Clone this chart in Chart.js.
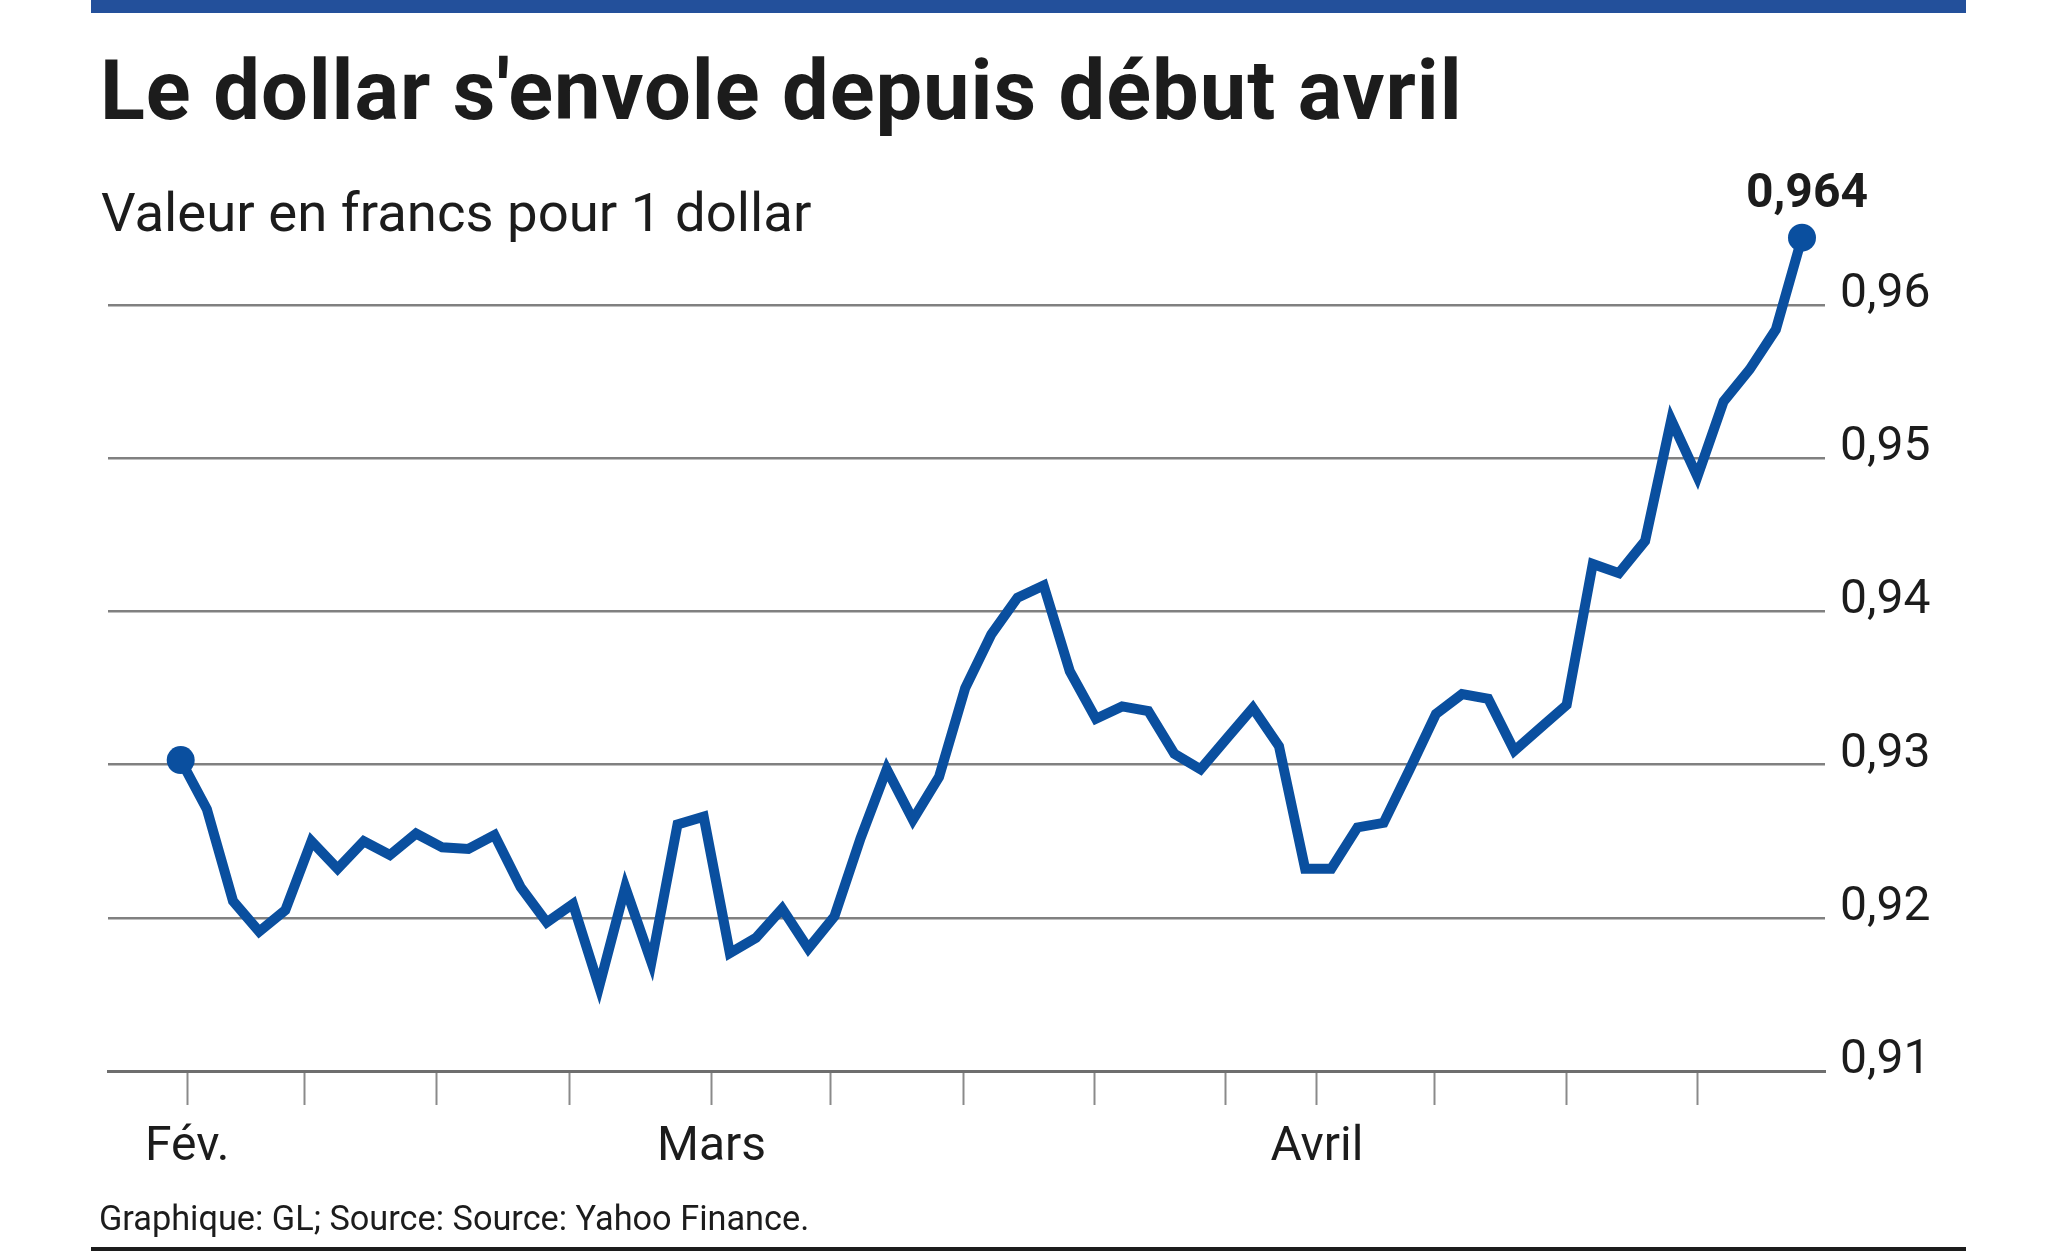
<!DOCTYPE html>
<html>
<head>
<meta charset="utf-8">
<script src="https://cdn.jsdelivr.net/npm/chart.js@4"></script>
<style>
  body { margin: 0; background: #fff; }
  #page { position: relative; width: 2048px; height: 1251px; overflow: hidden; font-family: Roboto, sans-serif; color: #1c1c1c; }
  .txt { position: absolute; line-height: 1; white-space: nowrap; }
  #topbar { position: absolute; left: 91px; top: 0; width: 1875px; height: 13px; background: #23509b; }
  #bottomrule { position: absolute; left: 91px; top: 1247px; width: 1875px; height: 4px; background: #1c1c1c; }
  #title { left: 100px; top: 49px; font-size: 83px; font-weight: 700; letter-spacing: 0.95px; }
  #subtitle { left: 101px; top: 185px; font-size: 54.5px; font-weight: 400; }
  #footer { left: 99px; top: 1201px; font-size: 34.3px; }
  canvas { position: absolute; left: 0; top: 0; }
</style>
</head>
<body>
<div id="page">
  <div id="topbar"></div>
  <div id="title" class="txt">Le dollar s'envole depuis début avril</div>
  <div id="subtitle" class="txt">Valeur en francs pour 1 dollar</div>
  <canvas id="chart" width="2048" height="1251"></canvas>
  <div id="footer" class="txt">Graphique: GL; Source: Source: Yahoo Finance.</div>
  <div id="bottomrule"></div>
</div>
<script>
// USD/CHF, one value per trading day from Feb. 1
const values = [
  0.9303, 0.9271, 0.9211, 0.9191, 0.9205, 0.9250, 0.9232, 0.9250, 0.9241, 0.9255,
  0.9246, 0.9245, 0.9254, 0.9220, 0.9197, 0.9209, 0.9155, 0.9220, 0.9171, 0.9261,
  0.9266, 0.9177, 0.9187, 0.9206, 0.9180, 0.9201, 0.9252, 0.9297, 0.9264, 0.9292,
  0.9350, 0.9385, 0.9409, 0.9417, 0.9361, 0.9330, 0.9338, 0.9335, 0.9307, 0.9297,
  0.9317, 0.9337, 0.9312, 0.9232, 0.9232, 0.9259, 0.9262, 0.9297, 0.9333, 0.9346,
  0.9343, 0.9309, 0.9324, 0.9339, 0.9431, 0.9425, 0.9446, 0.9525, 0.9488, 0.9537,
  0.9558, 0.9584, 0.9644
];

// tick marks on the time axis (position in trading days) and their labels
const xTickPos = [0.25, 4.75, 9.8, 14.85, 20.3, 24.85, 29.95, 34.95, 39.95, 43.45, 47.95, 53.0, 58.0];
const xTickLabels = ["Fév.", "", "", "", "Mars", "", "", "", "", "Avril", "", "", ""];
const yTicks = [0.91, 0.92, 0.93, 0.94, 0.95, 0.96];

const blue = "#0a4f9f";
const fmt = v => v.toFixed(2).replace(".", ",");

// bold value above the last point
const lastLabel = {
  id: "lastLabel",
  afterDatasetsDraw(chart) {
    const meta = chart.getDatasetMeta(0);
    const pt = meta.data[meta.data.length - 1];
    const ctx = chart.ctx;
    ctx.save();
    ctx.font = "700 48px Roboto";
    ctx.fillStyle = "#1c1c1c";
    ctx.textAlign = "center";
    ctx.textBaseline = "alphabetic";
    ctx.fillText(values[values.length - 1].toFixed(3).replace(".", ","), pt.x + 5, pt.y - 31);
    ctx.restore();
  }
};

new Chart(document.getElementById("chart"), {
  type: "line",
  data: {
    datasets: [{
      data: values.map((v, i) => ({ x: i, y: v })),
      borderColor: blue,
      borderWidth: 10,
      borderJoinStyle: "miter",
      tension: 0,
      clip: false,
      pointRadius: c => (c.dataIndex === 0 || c.dataIndex === values.length - 1) ? 14 : 0,
      pointBackgroundColor: blue,
      pointBorderWidth: 0,
      pointHoverRadius: 0
    }]
  },
  options: {
    responsive: false,
    animation: false,
    events: [],
    layout: { padding: { top: 230, left: 108, right: 0, bottom: 0 } },
    plugins: { legend: { display: false }, tooltip: { enabled: false } },
    scales: {
      x: {
        type: "linear",
        min: -2.78,
        max: 62.88,
        afterBuildTicks: s => { s.ticks = xTickPos.map(v => ({ value: v })); },
        afterFit: s => { s.height = 180; },
        grid: { drawOnChartArea: false, drawTicks: true, tickLength: 34, tickColor: "#8a8a8a", tickWidth: 2 },
        border: { display: true, color: "#6e6e6e", width: 3 },
        ticks: {
          autoSkip: false,
          maxRotation: 0,
          padding: 14,
          color: "#1c1c1c",
          font: { family: "Roboto", size: 48 },
          callback: (v, i) => xTickLabels[i]
        }
      },
      y: {
        position: "right",
        min: 0.91,
        max: 0.9649,
        afterBuildTicks: s => { s.ticks = yTicks.map(v => ({ value: v })); },
        afterFit: s => { s.width = 223; },
        grid: { color: "#808080", lineWidth: 2.5, drawTicks: false },
        border: { display: false },
        ticks: {
          padding: 15,
          labelOffset: -10,
          color: "#1c1c1c",
          font: { family: "Roboto", size: 48 },
          callback: v => fmt(v)
        }
      }
    }
  },
  plugins: [lastLabel]
});
</script>
</body>
</html>
